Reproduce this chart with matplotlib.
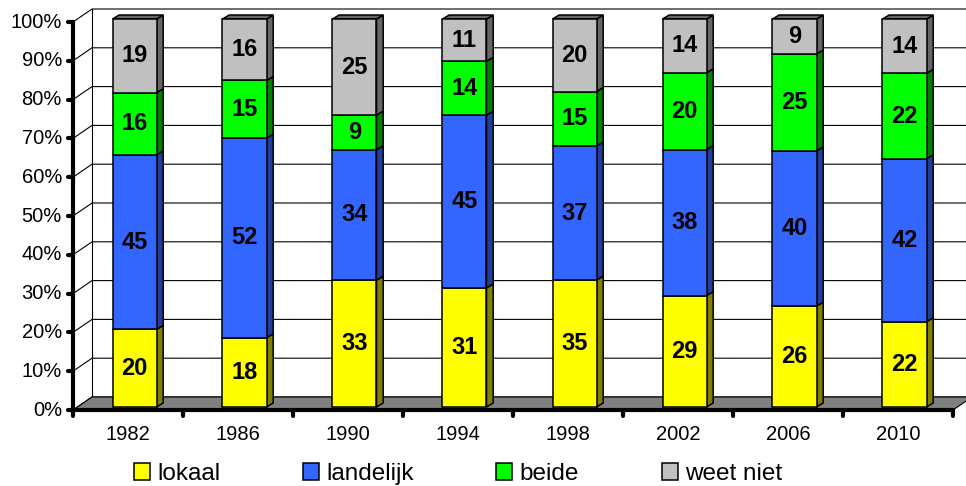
import matplotlib.pyplot as plt
from matplotlib.patches import Polygon, Patch

years = ['1982', '1986', '1990', '1994', '1998', '2002', '2006', '2010']
lokaal = [20, 18, 33, 31, 35, 29, 26, 22]
landelijk = [45, 52, 34, 45, 37, 38, 40, 42]
beide = [16, 15, 9, 14, 15, 20, 25, 22]
weet_niet = [19, 16, 25, 11, 20, 14, 9, 14]
series = ['lokaal', 'landelijk', 'beide', 'weet niet']
pct_ticks = list(range(0, 101, 10))

front_col = ['#ffff00', '#3366ff', '#00ff00', '#c0c0c0']
side_col = ['#808000', '#1f3d99', '#008000', '#666666']

plt.rcParams['font.family'] = ['Liberation Sans', 'DejaVu Sans']

fig = plt.figure(figsize=(9.66, 4.86), dpi=100)
ax = fig.add_axes([0, 0, 1, 1])
ax.axis('off')

# front plane: category boundaries every 110 px from x=73, 0% at 76 px from bottom, 3.88 px per %
px_x, px_y = 110.0, 3.88
ax.set_xlim(-73 / px_x, (966 - 73) / px_x)
ax.set_ylim(-76 / px_y, (486 - 76) / px_y)

n = len(years)
DX, DY = 19 / px_x, 13 / px_y        # depth of the walls
SX, SY = 6.5 / px_x, 3 / px_y        # bar front face shift behind front plane
BX, BY = 6.7 / px_x, 4 / px_y        # bar depth
W = 44 / px_x

# back wall + side wall
ax.add_patch(Polygon([(DX, DY), (n + DX, DY), (n + DX, 100 + DY), (DX, 100 + DY)],
                     closed=True, fc='white', ec='none', zorder=1))
for v in pct_ticks:
    ax.plot([0, DX, n + DX], [v, v + DY, v + DY], color='black', lw=0.8, zorder=2)
ax.plot([DX, DX], [DY, 100 + DY], color='black', lw=0.8, zorder=2)

# floor
ax.add_patch(Polygon([(0, 0), (n, 0), (n + DX, DY), (DX, DY)],
                     closed=True, fc='#808080', ec='black', lw=0.8, zorder=3))

# bars
data = [lokaal, landelijk, beide, weet_niet]
for i in range(n):
    total = sum(s[i] for s in data)
    base = 0.0
    x0 = i + 0.5 - W / 2 + SX
    x1 = x0 + W
    for j, s in enumerate(data):
        h = s[i] / total * 100
        y0 = base + SY
        y1 = y0 + h
        ax.add_patch(Polygon([(x1, y0), (x1 + BX, y0 + BY), (x1 + BX, y1 + BY), (x1, y1)],
                             closed=True, fc=side_col[j], ec='black', lw=1.1, zorder=4))
        if j == len(data) - 1:
            ax.add_patch(Polygon([(x0, y1), (x1, y1), (x1 + BX, y1 + BY), (x0 + BX, y1 + BY)],
                                 closed=True, fc=side_col[j], ec='black', lw=1.1, zorder=4))
        ax.add_patch(Polygon([(x0, y0), (x1, y0), (x1, y1), (x0, y1)],
                             closed=True, fc=front_col[j], ec='black', lw=1.1, zorder=5))
        ax.text((x0 + x1) / 2, (y0 + y1) / 2, str(s[i]), ha='center', va='center',
                fontsize=17, fontweight='bold', zorder=6)
        base += h

# axes lines and ticks
ax.plot([0, 0], [0, 100], color='black', lw=3, zorder=7, solid_capstyle='round')
ax.plot([0, n], [0, 0], color='black', lw=3, zorder=7, solid_capstyle='round')
for v in pct_ticks:
    ax.plot([0, -5 / px_x], [v, v], color='black', lw=3, zorder=7, solid_capstyle='round')
    ax.text(-11 / px_x, v, f'{v}%', ha='right', va='center', fontsize=14.5)
for i in range(n + 1):
    ax.plot([i, i], [0, -6 / px_y], color='black', lw=3, zorder=7, solid_capstyle='round')
for i, y in enumerate(years):
    ax.text(i + 0.5, -24.5 / px_y, y, ha='center', va='center', fontsize=14.5)

handles = [Patch(fc=c, ec='black', lw=1.1) for c in front_col]
fig.legend(handles, series, loc='center', bbox_to_anchor=(458 / 966, 12 / 486), ncol=4,
           frameon=False, fontsize=17.5, handlelength=0.66, handleheight=0.66,
           handletextpad=0.3, columnspacing=3.4, borderpad=0)

fig.savefig('out.png', dpi=100)
